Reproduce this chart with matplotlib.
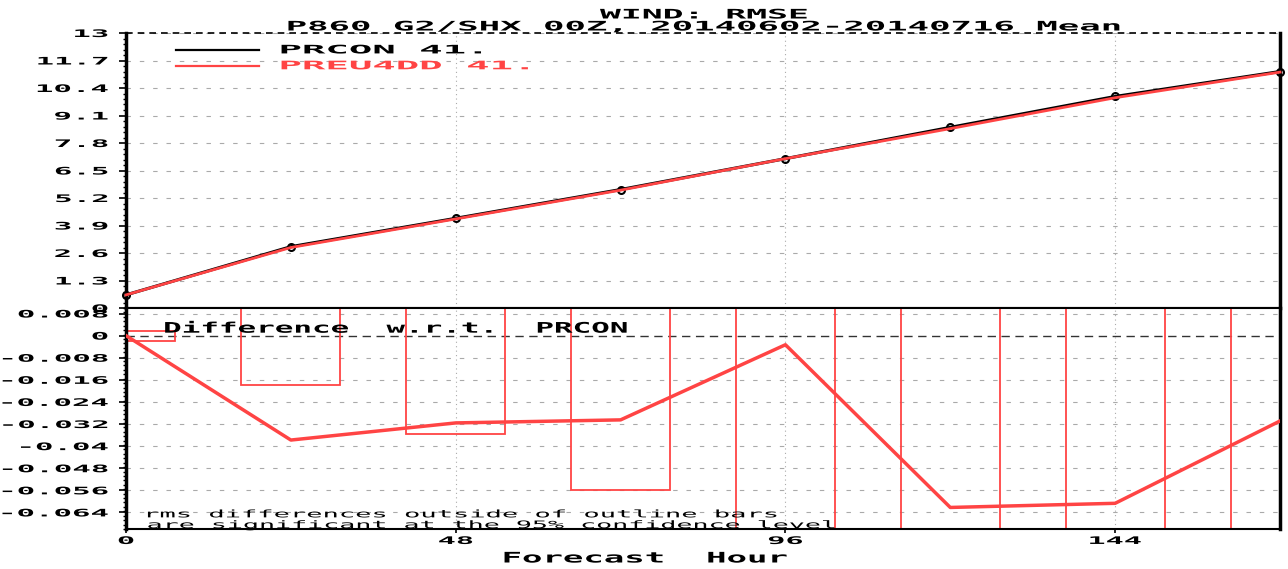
import matplotlib
matplotlib.use('Agg')
import matplotlib.pyplot as plt
import numpy as np
from matplotlib.patheffects import AbstractPathEffect
from matplotlib.transforms import Affine2D

# forecast hours and RMSE values
hours = [0, 24, 48, 72, 96, 120, 144, 168]
rmse_prcon = [0.62, 2.90, 4.24, 5.60, 7.06, 8.54, 10.00, 11.18]
rmse_preu4dd = [0.62, 2.86, 4.21, 5.57, 7.06, 8.48, 9.94, 11.15]

# difference PREU4DD - PRCON and significance bar limits
diff = [0.0, -0.0378, -0.0316, -0.0305, -0.0033, -0.0622, -0.0607, -0.0309]
bar_low = [-0.0018, -0.0178, -0.0357, -0.0560, -0.09, -0.09, -0.09, -0.09]
bar_high = [0.0018, 0.03, 0.03, 0.03, 0.03, 0.03, 0.03, 0.03]
bar_halfwidth = 7.2

top_ticks = [0, 1.3, 2.6, 3.9, 5.2, 6.5, 7.8, 9.1, 10.4, 11.7, 13]
top_labels = ['0', '1.3', '2.6', '3.9', '5.2', '6.5', '7.8', '9.1', '10.4', '11.7', '13']
bot_ticks = [-0.064, -0.056, -0.048, -0.04, -0.032, -0.024, -0.016, -0.008, 0, 0.008]
bot_labels = ['-0.064', '-0.056', '-0.048', '-0.04', '-0.032', '-0.024', '-0.016',
              '-0.008', '0', '0.008']
x_ticks = [0, 48, 96, 144]

red = '#ff4444'
MONO = 'DejaVu Sans Mono'


class Widen(AbstractPathEffect):
    """Stretch text horizontally, GrADS fonts are very wide."""

    def __init__(self, sx, anchor='left'):
        super().__init__()
        self.sx = sx
        self.anchor = anchor

    def draw_path(self, renderer, gc, tpath, affine, rgbFace=None):
        if len(tpath.vertices) == 0:
            return
        ext = tpath.get_extents()
        a = {'left': 0.0, 'center': (ext.x0 + ext.x1) / 2, 'right': ext.x1}[self.anchor]
        stretch = Affine2D().translate(-a, 0).scale(self.sx, 1).translate(a, 0)
        renderer.draw_path(gc, tpath, stretch + affine, rgbFace)


def wide_text(obj, x, y, s, sx, size, ha='left', bold=True, **kw):
    t = obj.text(x, y, s, ha=ha, fontsize=size, family=MONO,
                 fontweight='bold' if bold else 'normal', **kw)
    t.set_path_effects([Widen(sx, ha)])
    return t


fig = plt.figure(figsize=(12.88, 5.69), dpi=100)
ax1 = fig.add_axes([126 / 1288, 1 - 308 / 569, 1154 / 1288, 275 / 569])
ax2 = fig.add_axes([126 / 1288, 1 - 529 / 569, 1154 / 1288, 221 / 569])

# upper panel: RMSE
ax1.plot(hours, rmse_prcon, color='black', lw=2.2, marker='o', ms=5,
         mfc='none', mec='black', mew=1.5, clip_on=False, zorder=3)
ax1.plot(hours, rmse_preu4dd, color=red, lw=2.0, clip_on=False, zorder=4)
ax1.set_xlim(0, 168)
ax1.set_ylim(0, 13)
ax1.set_yticks(top_ticks)
ax1.set_yticklabels(top_labels, fontsize=7.5, family=MONO, fontweight='bold')
ax1.set_xticks(x_ticks)
ax1.tick_params(axis='x', length=0, labelbottom=False)
ax1.tick_params(axis='y', length=5, width=1.2, pad=8)
ax1.set_yticks(np.arange(0, 13.01, 0.26), minor=True)
ax1.tick_params(axis='y', which='minor', length=2, width=1)
for y in top_ticks[1:]:
    ax1.axhline(y, color='#aaaaaa', lw=0.8, ls=(0, (4, 8)), zorder=1)
for x in x_ticks[1:]:
    ax1.axvline(x, color='#aaaaaa', lw=0.8, ls=(0, (1, 3)), zorder=1)
ax1.spines['top'].set_visible(False)
ax1.axhline(13, color='black', lw=1.2, ls=(0, (4, 3)), clip_on=False)
ax1.spines['left'].set_linewidth(2.5)
ax1.spines['right'].set_linewidth(2.5)
ax1.spines['bottom'].set_linewidth(1.5)

# legend drawn by hand like GrADS does
ax1.plot([7.3, 19.4], [12.2, 12.2], color='black', lw=1.6)
wide_text(ax1, 22.2, 12.2, 'PRCON 41.', 3.3, 8.5, va='center', color='black')
ax1.plot([7.3, 19.4], [11.45, 11.45], color=red, lw=1.6)
wide_text(ax1, 22.2, 11.45, 'PREU4DD 41.', 3.3, 8.5, va='center', color=red)

# lower panel: differences with significance bars
for h, lo, hi in zip(hours, bar_low, bar_high):
    ax2.add_patch(plt.Rectangle((h - bar_halfwidth, lo), 2 * bar_halfwidth, hi - lo,
                                fill=False, edgecolor=red, lw=1.3, zorder=2))
ax2.plot(hours, diff, color=red, lw=2.5, zorder=3)
ax2.axhline(0, color='#333333', lw=1.0, ls=(0, (6, 4)), zorder=1)
for y in bot_ticks[:8] + [0.008]:
    ax2.axhline(y, color='#aaaaaa', lw=0.8, ls=(0, (4, 8)), zorder=1)
for x in x_ticks[1:]:
    ax2.axvline(x, color='#aaaaaa', lw=0.8, ls=(0, (1, 3)), zorder=1)
ax2.set_xlim(0, 168)
ax2.set_ylim(-0.07, 0.01)
ax2.set_yticks(bot_ticks)
ax2.set_yticklabels(bot_labels, fontsize=7.5, family=MONO, fontweight='bold')
ax2.set_yticks(np.arange(-0.07, 0.0101, 0.0016), minor=True)
ax2.tick_params(axis='y', length=5, width=1.2, pad=8)
ax2.tick_params(axis='y', which='minor', length=2, width=1)
ax2.set_xticks(x_ticks)
ax2.set_xticklabels([str(x) for x in x_ticks], fontsize=7.5, family=MONO,
                    fontweight='bold')
ax2.tick_params(axis='x', length=3, width=1.2, pad=2)
for s in ['left', 'right']:
    ax2.spines[s].set_linewidth(2.5)
ax2.spines['top'].set_linewidth(1.5)
ax2.spines['bottom'].set_linewidth(1.5)

for lbl in ax1.get_yticklabels() + ax2.get_yticklabels():
    lbl.set_path_effects([Widen(2.95, 'right')])
for lbl in ax2.get_xticklabels():
    lbl.set_path_effects([Widen(2.9, 'center')])

wide_text(ax2, 5.4, 0.0027, 'Difference  w.r.t.  PRCON', 2.12, 10.5, va='center')
wide_text(ax2, 2.5, -0.0647, 'rms differences outside of outline bars', 2.6, 7.5,
          bold=False, va='center')
wide_text(ax2, 3.0, -0.0686, 'are significant at the 95% confidence level', 2.56, 7.5,
          bold=False, va='center')

wide_text(fig, 704 / 1288, 1 - 15 / 569, 'WIND: RMSE', 2.63, 9.5, ha='center', va='center')
wide_text(fig, 705 / 1288, 1 - 27 / 569, 'P860 G2/SHX 00Z, 20140602-20140716 Mean',
          2.7, 9.5, ha='center', va='center')
wide_text(fig, 645 / 1288, 1 - 558 / 569, 'Forecast  Hour', 2.33, 10.5, ha='center',
          va='center')

fig.savefig('out.png', dpi=100)
plt.close(fig)
